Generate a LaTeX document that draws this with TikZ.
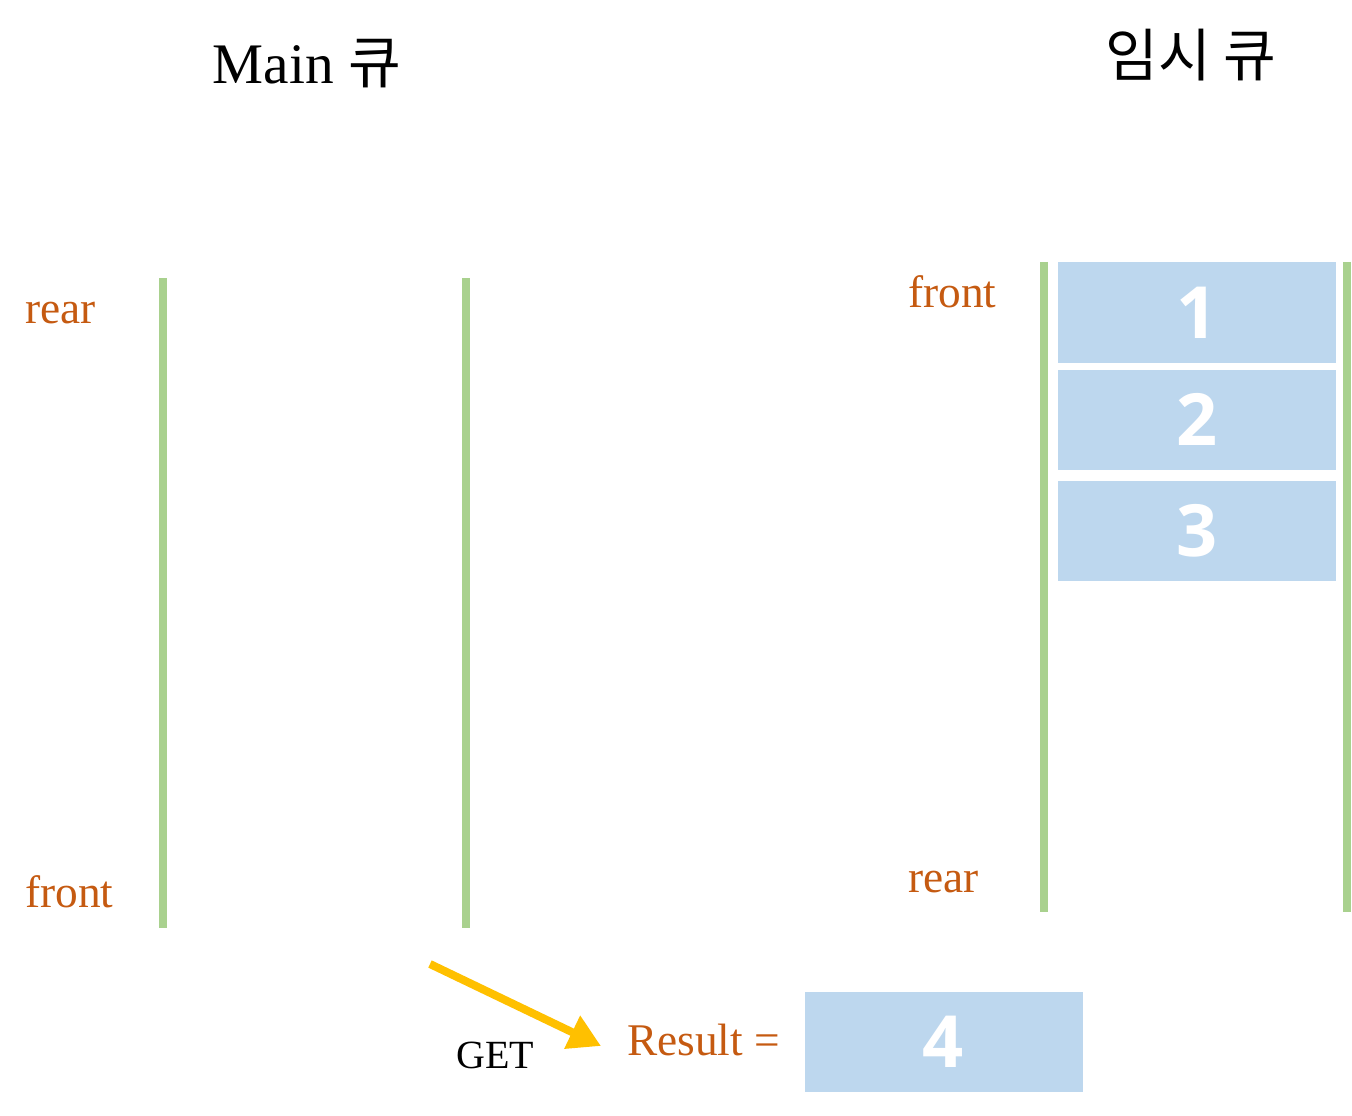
\documentclass[tikz,border=0pt]{standalone}
\usepackage{fontspec}
\setmainfont{Liberation Serif}
\newfontfamily\kr{Noto Sans CJK KR}
\newfontfamily\numfont{Open Sans}
\usetikzlibrary{arrows.meta}
\definecolor{qgreen}{HTML}{A9D18E}
\definecolor{qblue}{HTML}{BDD7EE}
\definecolor{qorange}{HTML}{C55A11}
\definecolor{qyellow}{HTML}{FFC000}
\begin{document}
\begin{tikzpicture}[x=0.75pt,y=-0.75pt,
  wall/.style={draw=qgreen,line width=6pt},
  cell/.style={fill=qblue,draw=none,minimum width=208.5pt,minimum height=75pt,inner sep=0pt,
    text=white,font=\numfont\bfseries\fontsize{54}{60}\selectfont},
  lbl/.style={text=qorange,font=\fontsize{34}{40}\selectfont,inner sep=0pt,anchor=base west},
  ttl/.style={font=\fontsize{43}{48}\selectfont,inner sep=0pt},
  getarrow/.style={draw=qyellow,line width=6pt,-{Triangle[length=24pt,width=26pt]}}]
\useasboundingbox (0,0) rectangle (1352,1116);
% titles
\node[ttl,anchor=base] (t1) at (307,84) {Main {\kr 큐}};
\node[ttl] (t2) at (1191,55) {{\kr 임시 큐}};
% left queue walls
\coordinate (l1a) at (163,278); \coordinate (l1b) at (163,928);
\coordinate (l2a) at (466,278); \coordinate (l2b) at (466,928);
\draw[wall] (l1a) -- (l1b);
\draw[wall] (l2a) -- (l2b);
% right queue walls
\coordinate (r1a) at (1044,262); \coordinate (r1b) at (1044,912);
\coordinate (r2a) at (1347,262); \coordinate (r2b) at (1347,912);
\draw[wall] (r1a) -- (r1b);
\draw[wall] (r2a) -- (r2b);
% labels
\node[lbl] (lrear) at (25,323) {rear};
\node[lbl] (lfront) at (25,907) {front};
\node[lbl] (rfront) at (908,307) {front};
\node[lbl] (rrear) at (908,892) {rear};
% cells
\node[cell] (c1) at (1197,312.5) {1};
\node[cell] (c2) at (1197,419.5) {2};
\node[cell] (c3) at (1197,531) {3};
% result
\node[lbl] (res) at (627,1055) {Result =};
\node[cell] (c4) at (943.5,1042) {4};
\node[inner sep=0pt,anchor=base west,font=\fontsize{30}{36}\selectfont] (get) at (456,1068) {GET};
\coordinate (ga) at (430,964);
\coordinate (gb) at (601,1046);
\draw[getarrow] (ga) -- (gb);
\end{tikzpicture}
\end{document}
